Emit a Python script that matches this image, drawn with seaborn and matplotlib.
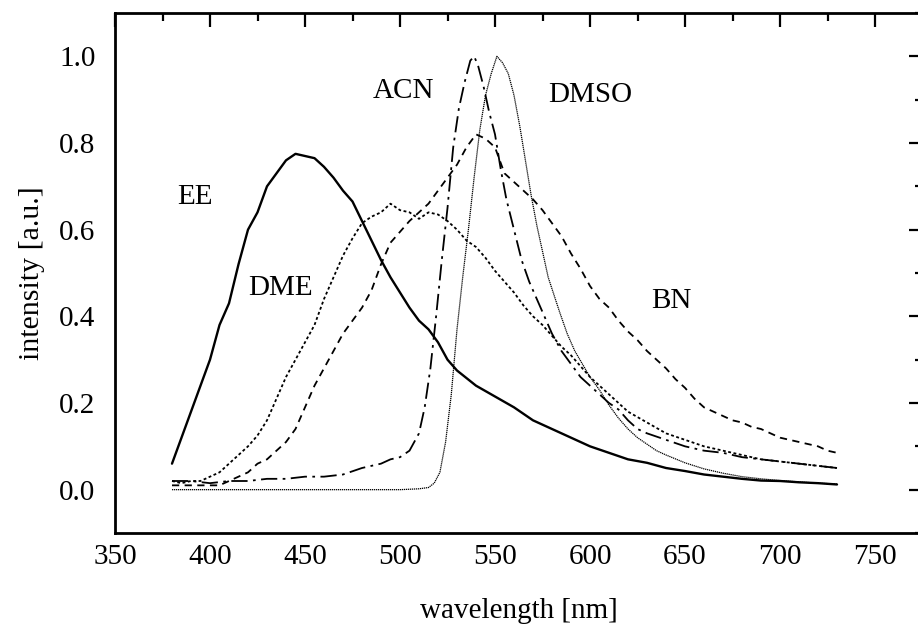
import numpy as np
import pandas as pd
import matplotlib
matplotlib.use("Agg")
import matplotlib.pyplot as plt
import seaborn as sns
from matplotlib.ticker import MultipleLocator

# ---------------- data ----------------
ee_wl = [380, 385, 390, 395, 400, 405, 410, 415, 420, 425, 430, 435, 440, 445, 450,
         455, 460, 465, 470, 475, 480, 485, 490, 495, 500, 505, 510, 515, 520, 525,
         530, 540, 550, 560, 570, 580, 590, 600, 610, 620, 630, 640, 650, 660, 670,
         680, 690, 700, 710, 720, 730]
ee_int = [0.06, 0.12, 0.18, 0.24, 0.30, 0.38, 0.43, 0.52, 0.60, 0.64, 0.70, 0.73, 0.76, 0.775, 0.77,
          0.765, 0.745, 0.72, 0.69, 0.665, 0.62, 0.575, 0.53, 0.49, 0.455, 0.42, 0.39, 0.37, 0.34, 0.30,
          0.275, 0.24, 0.215, 0.19, 0.16, 0.14, 0.12, 0.10, 0.085, 0.07, 0.062, 0.05, 0.043, 0.035, 0.03,
          0.025, 0.021, 0.02, 0.017, 0.015, 0.012]

dme_wl = [380, 385, 390, 395, 400, 405, 410, 415, 420, 425, 430, 435, 440, 445, 450,
          455, 460, 465, 470, 475, 480, 485, 490, 495, 500, 505, 510, 515, 520, 525,
          530, 535, 540, 545, 550, 555, 560, 565, 570, 575, 580, 585, 590, 595, 600,
          610, 620, 630, 640, 650, 660, 670, 680, 690, 700, 710, 720, 730]
dme_int = [0.02, 0.015, 0.02, 0.02, 0.03, 0.04, 0.06, 0.08, 0.10, 0.125, 0.16, 0.21, 0.26, 0.30, 0.34,
           0.38, 0.44, 0.49, 0.54, 0.58, 0.615, 0.63, 0.64, 0.66, 0.645, 0.64, 0.625, 0.64, 0.635, 0.62,
           0.60, 0.575, 0.56, 0.535, 0.505, 0.48, 0.455, 0.425, 0.40, 0.38, 0.355, 0.33, 0.31, 0.285, 0.26,
           0.22, 0.18, 0.155, 0.13, 0.115, 0.10, 0.09, 0.08, 0.07, 0.065, 0.06, 0.055, 0.05]

bn_wl = [380, 390, 400, 405, 410, 415, 420, 425, 430, 435, 440, 445, 450, 455, 460,
         465, 470, 475, 480, 485, 490, 495, 500, 505, 510, 515, 520, 525, 530, 535,
         540, 545, 550, 555, 560, 565, 570, 575, 580, 585, 590, 595, 600, 605, 610,
         615, 620, 625, 630, 635, 640, 645, 650, 655, 660, 665, 670, 675, 680, 685,
         690, 695, 700, 705, 710, 715, 720, 725, 730]
bn_int = [0.01, 0.01, 0.01, 0.01, 0.02, 0.03, 0.04, 0.06, 0.07, 0.09, 0.11, 0.14, 0.19, 0.24, 0.28,
          0.32, 0.36, 0.39, 0.42, 0.46, 0.52, 0.57, 0.595, 0.62, 0.64, 0.66, 0.69, 0.72, 0.75, 0.79,
          0.82, 0.81, 0.79, 0.73, 0.71, 0.69, 0.67, 0.645, 0.615, 0.585, 0.545, 0.51, 0.47, 0.44, 0.42,
          0.39, 0.365, 0.345, 0.32, 0.30, 0.28, 0.255, 0.235, 0.21, 0.19, 0.18, 0.17, 0.16, 0.155, 0.145,
          0.14, 0.13, 0.12, 0.115, 0.11, 0.105, 0.10, 0.09, 0.085]

acn_wl = [380, 390, 400, 410, 420, 430, 440, 450, 460, 470, 480, 490, 495, 500, 505,
          510, 513, 516, 519, 522, 525, 528, 531, 534, 537, 539, 541, 544, 547, 550,
          553, 556, 560, 564, 568, 572, 576, 580, 585, 590, 595, 600, 605, 610, 615,
          620, 625, 630, 640, 650, 660, 670, 680, 690, 700, 710, 720, 730]
acn_int = [0.02, 0.02, 0.015, 0.02, 0.02, 0.025, 0.025, 0.03, 0.03, 0.035, 0.05, 0.06, 0.07, 0.075, 0.09,
           0.13, 0.19, 0.28, 0.40, 0.53, 0.65, 0.79, 0.88, 0.94, 0.99, 1.0, 0.98, 0.93, 0.87, 0.82,
           0.74, 0.67, 0.60, 0.53, 0.48, 0.44, 0.40, 0.36, 0.32, 0.29, 0.26, 0.24, 0.22, 0.20, 0.185,
           0.16, 0.14, 0.13, 0.115, 0.10, 0.09, 0.085, 0.075, 0.07, 0.065, 0.06, 0.055, 0.05]

dmso_wl = [380, 400, 450, 500, 510, 515, 518, 521, 524, 527, 530, 533, 536, 539, 542,
           545, 548, 551, 554, 557, 560, 563, 566, 569, 572, 575, 578, 581, 584, 588,
           592, 596, 600, 605, 610, 615, 620, 625, 630, 635, 640, 650, 660, 670, 680,
           690, 700, 710, 720, 730]
dmso_int = [0.0, 0.0, 0.0, 0.0, 0.002, 0.005, 0.015, 0.04, 0.11, 0.22, 0.37, 0.49, 0.60, 0.72, 0.83,
            0.91, 0.96, 1.0, 0.985, 0.96, 0.91, 0.84, 0.76, 0.68, 0.61, 0.55, 0.49, 0.45, 0.41, 0.36,
            0.32, 0.29, 0.26, 0.23, 0.195, 0.165, 0.14, 0.12, 0.105, 0.09, 0.08, 0.062, 0.048, 0.038, 0.03,
            0.025, 0.021, 0.018, 0.015, 0.013]

labels = ["EE", "DME", "ACN", "DMSO", "BN"]
label_x = [392, 437, 502, 600, 643]
label_y = [0.675, 0.465, 0.92, 0.91, 0.436]

x_ticks = [350, 400, 450, 500, 550, 600, 650, 700, 750]
y_ticks = [0.0, 0.2, 0.4, 0.6, 0.8, 1.0]

# ---------------- styling ----------------
sns.set_theme(style="white")
plt.rcParams["font.family"] = ["Liberation Serif", "DejaVu Serif"]

fig = plt.figure(figsize=(9.18, 6.25), dpi=100)
ax = fig.add_axes([115 / 918, (625 - 533) / 625, (775 - 350) * 1.9 / 918, (533 - 13) / 625])

curves = [
    (ee_wl, ee_int, dict(linestyle="-", lw=1.7)),
    (dme_wl, dme_int, dict(linestyle=(0, (1.6, 1.4)), lw=1.3)),
    (bn_wl, bn_int, dict(linestyle=(0, (4, 3)), lw=1.3)),
    (acn_wl, acn_int, dict(linestyle=(0, (9, 3, 1.5, 3)), lw=1.3)),
    (dmso_wl, dmso_int, dict(linestyle=(0, (1, 0.6)), lw=0.9)),
]
for wl, it, kw in curves:
    df = pd.DataFrame({"wl": wl, "it": it})
    sns.lineplot(data=df, x="wl", y="it", ax=ax, color="black",
                 estimator=None, sort=False, **kw)

for t, x, y in zip(labels, label_x, label_y):
    ax.text(x, y, t, fontsize=21, ha="center", va="center", color="black")

ax.set_xlim(350, 775)
ax.set_ylim(-0.1, 1.1)
ax.set_xticks(x_ticks)
ax.set_xticklabels([str(v) for v in x_ticks])
ax.set_yticks(y_ticks)
ax.set_yticklabels([f"{v:.1f}" for v in y_ticks])
ax.xaxis.set_minor_locator(MultipleLocator(25))
ax.yaxis.set_minor_locator(MultipleLocator(0.1))

ax.tick_params(which="both", direction="in", top=True, right=True, color="black",
               labelsize=21, labelcolor="black")
ax.tick_params(which="major", length=10, width=1.6)
ax.tick_params(which="minor", length=5.5, width=1.6)
ax.tick_params(axis="x", which="major", pad=8)
ax.tick_params(axis="y", which="major", pad=14)

for s in ax.spines.values():
    s.set_linewidth(2.0)
    s.set_color("black")
    s.set_visible(True)

ax.set_xlabel("wavelength [nm]", fontsize=21, color="black", labelpad=20)
ax.set_ylabel("intensity [a.u.]", fontsize=21.5, color="black", labelpad=10)
ax.grid(False)
ax.set_facecolor("white")

fig.savefig("out.png", dpi=100, facecolor="white")
